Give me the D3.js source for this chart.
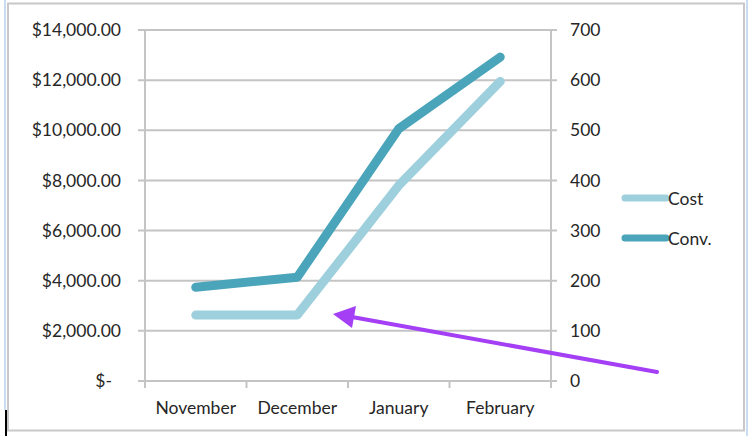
<!DOCTYPE html>
<html><head><meta charset="utf-8">
<script src="https://cdn.jsdelivr.net/npm/d3@7"></script>
<style>
html,body{margin:0;padding:0;background:#fff;}
svg{display:block;}
text{font-family:Lato,"Open Sans",sans-serif;fill:#262626;}
</style></head>
<body>
<svg id="chart" width="754" height="436"></svg>
<script>
const months = ["November","December","January","February"];
const costValues = [2630, 2630, 7800, 11950];
const convValues = [187, 207, 503, 646];
const leftTicks = [0,2000,4000,6000,8000,10000,12000,14000];
const rightTicks = [0,100,200,300,400,500,600,700];
const seriesNames = ["Cost","Conv."];

const svg = d3.select("#chart");
const plot = {left:145, right:551, top:30, bottom:381};
const FS = 17.5;

// frame
svg.append("rect").attr("x",8).attr("y",3.5).attr("width",736).attr("height",427)
  .attr("fill","#fff").attr("stroke","#c8c8c8").attr("stroke-width",2);
svg.append("line").attr("x1",5).attr("x2",5).attr("y1",0).attr("y2",410).attr("stroke","#b8d0ee").attr("stroke-width",1.5);
svg.append("line").attr("x1",747).attr("x2",747).attr("y1",0).attr("y2",436).attr("stroke","#b8d0ee").attr("stroke-width",1.5);
svg.append("line").attr("x1",6).attr("x2",6).attr("y1",410).attr("y2",436).attr("stroke","#000").attr("stroke-width",2);

const x = d3.scaleBand().domain(months).range([plot.left, plot.right]);
const yL = d3.scaleLinear().domain([0,14000]).range([plot.bottom, plot.top]);
const yR = d3.scaleLinear().domain([0,700]).range([plot.bottom, plot.top]);

const gridColor = "#c4c4c4";
svg.append("g").selectAll("line").data(leftTicks).join("line")
  .attr("x1",plot.left-7).attr("x2",plot.right+6)
  .attr("y1",d=>yL(d)).attr("y2",d=>yL(d))
  .attr("stroke",gridColor).attr("stroke-width",2);
svg.append("line").attr("x1",plot.left).attr("x2",plot.left).attr("y1",plot.top).attr("y2",plot.bottom+1)
  .attr("stroke",gridColor).attr("stroke-width",2);
svg.append("line").attr("x1",plot.right).attr("x2",plot.right).attr("y1",plot.top).attr("y2",plot.bottom+1)
  .attr("stroke",gridColor).attr("stroke-width",2);
const xEdges = months.map(m=>x(m)).concat([plot.right]);
svg.append("g").selectAll("line").data(xEdges).join("line")
  .attr("x1",d=>d).attr("x2",d=>d).attr("y1",plot.bottom).attr("y2",plot.bottom+7)
  .attr("stroke",gridColor).attr("stroke-width",2);

const fmt = d => d===0 ? "$-" : "$" + d3.format(",.2f")(d);
svg.append("g").selectAll("text").data(leftTicks).join("text")
  .attr("x",d=>d===0?112:121).attr("y",d=>yL(d)).attr("dy","0.35em")
  .attr("text-anchor","end").attr("font-size",FS).text(fmt);
svg.append("g").selectAll("text").data(rightTicks).join("text")
  .attr("x",570).attr("y",d=>yR(d)).attr("dy","0.35em")
  .attr("text-anchor","start").attr("font-size",FS).text(d=>d);
svg.append("g").selectAll("text").data(months).join("text")
  .attr("x",d=>x(d)+x.bandwidth()/2).attr("y",408).attr("dy","0.35em")
  .attr("text-anchor","middle").attr("font-size",FS).text(d=>d);

const colors = ["#9ecfdc","#4aa5ba"];
const lineL = d3.line().x((d,i)=>x(months[i])+x.bandwidth()/2).y(d=>yL(d));
const lineR = d3.line().x((d,i)=>x(months[i])+x.bandwidth()/2).y(d=>yR(d));
svg.append("path").datum(costValues).attr("d",lineL).attr("fill","none")
  .attr("stroke",colors[0]).attr("stroke-width",9).attr("stroke-linecap","round").attr("stroke-linejoin","round");
svg.append("path").datum(convValues).attr("d",lineR).attr("fill","none")
  .attr("stroke",colors[1]).attr("stroke-width",9).attr("stroke-linecap","round").attr("stroke-linejoin","round");

const leg = svg.append("g");
seriesNames.forEach((n,i)=>{
  const yy = 198 + i*40;
  leg.append("line").attr("x1",625).attr("x2",666).attr("y1",yy).attr("y2",yy)
    .attr("stroke",colors[i]).attr("stroke-width",7).attr("stroke-linecap","round");
  leg.append("text").attr("x",668).attr("y",yy+1).attr("dy","0.35em").attr("font-size",FS).text(n);
});

const purple = "#a43ff5";
svg.append("line").attr("x1",657).attr("y1",372).attr("x2",352).attr("y2",317)
  .attr("stroke",purple).attr("stroke-width",4).attr("stroke-linecap","round");
svg.append("path").attr("d","M333,314 L356,306 L352,328 Z").attr("fill",purple);
</script>
</body></html>
